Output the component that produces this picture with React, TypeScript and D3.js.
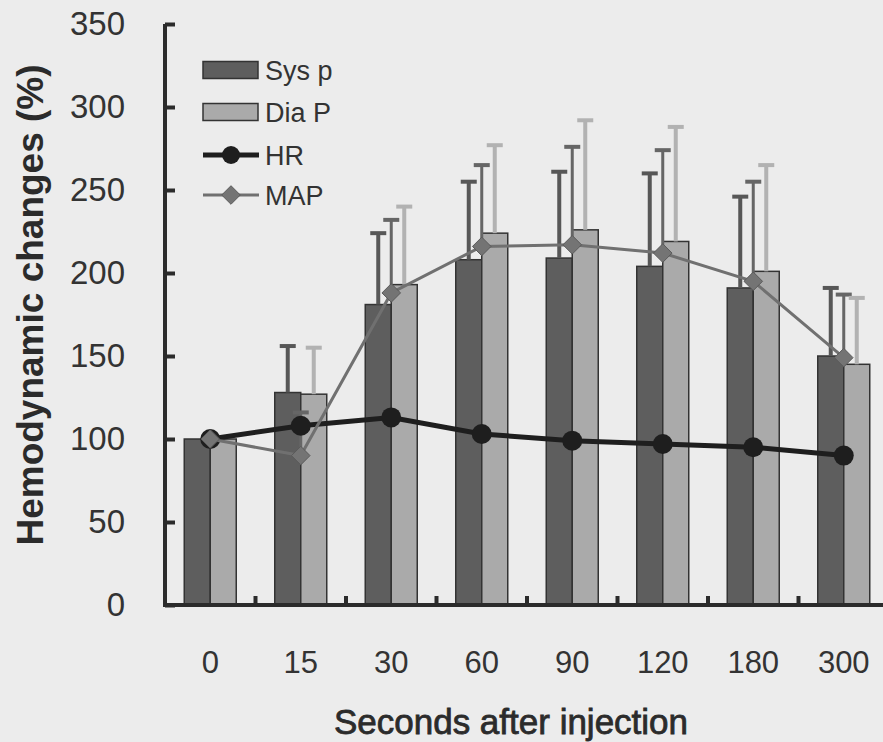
import * as d3 from "d3";
import { useEffect, useRef } from "react";

const seconds = ["0", "15", "30", "60", "90", "120", "180", "300"];
const sysP = [100, 128, 181, 208, 209, 204, 191, 150];
const sysSd = [0, 28, 43, 47, 52, 56, 55, 41];
const diaP = [100, 127, 193, 224, 226, 219, 201, 145];
const diaSd = [0, 28, 47, 53, 66, 69, 64, 40];
const hr = [100, 108, 113, 103, 99, 97, 95, 90];
const map = [100, 90, 188, 216, 217, 212, 195, 149];
const mapSd = [0, 26, 44, 49, 59, 62, 60, 38];
const yTicks = [0, 50, 100, 150, 200, 250, 300, 350];

const W = 883;
const H = 742;

const App = () => {
  const ref = useRef<SVGSVGElement | null>(null);

  useEffect(() => {
    document.body.style.margin = "0";
    if (!ref.current) return;
    const svg = d3.select(ref.current);
    svg.selectAll("*").remove();

    const font = "'Liberation Sans', Arial, sans-serif";
    const axisColor = "#2b2b2b";
    const sysColor = "#5e5e5e";
    const diaColor = "#aaaaaa";
    const hrColor = "#1e1e1e";
    const mapColor = "#707070";

    svg.append("rect").attr("width", W).attr("height", H).attr("fill", "#ececec");

    const x = d3.scaleBand().domain(seconds).range([165, 889]).padding(0);
    const y = d3.scaleLinear().domain([0, 350]).range([605, 24]);
    const cx = (d: string) => x(d)! + x.bandwidth() / 2;
    const barW = 26;

    // bars
    const groups = svg.append("g").selectAll("g").data(seconds).join("g");

    groups
      .append("rect")
      .attr("x", (d) => cx(d) - barW)
      .attr("y", (_, i) => y(sysP[i]))
      .attr("width", barW)
      .attr("height", (_, i) => y(0) - y(sysP[i]))
      .attr("fill", sysColor)
      .attr("stroke", "#333")
      .attr("stroke-width", 1.5);

    groups
      .append("rect")
      .attr("x", (d) => cx(d))
      .attr("y", (_, i) => y(diaP[i]))
      .attr("width", barW)
      .attr("height", (_, i) => y(0) - y(diaP[i]))
      .attr("fill", diaColor)
      .attr("stroke", "#333")
      .attr("stroke-width", 1.5);

    // error bars (upper only)
    const errBar = (
      xs: (d: string) => number,
      mean: number[],
      sd: number[],
      color: string,
      w: number
    ) => {
      const g = svg.append("g");
      seconds.forEach((d, i) => {
        if (sd[i] <= 0) return;
        const x0 = xs(d);
        g.append("line")
          .attr("x1", x0)
          .attr("x2", x0)
          .attr("y1", y(mean[i]))
          .attr("y2", y(mean[i] + sd[i]))
          .attr("stroke", color)
          .attr("stroke-width", w);
        g.append("line")
          .attr("x1", x0 - 8)
          .attr("x2", x0 + 8)
          .attr("y1", y(mean[i] + sd[i]))
          .attr("y2", y(mean[i] + sd[i]))
          .attr("stroke", color)
          .attr("stroke-width", 4);
      });
    };
    errBar((d) => cx(d) - barW / 2, sysP, sysSd, "#575757", 4);
    errBar((d) => cx(d), map, mapSd, "#666666", 3);
    errBar((d) => cx(d) + barW / 2, diaP, diaSd, "#b2b2b2", 4);

    const line = d3
      .line<number>()
      .curve(d3.curveLinear)
      .x((_, i) => cx(seconds[i]))
      .y((v) => y(v));

    // HR
    svg
      .append("path")
      .attr("d", line(hr))
      .attr("fill", "none")
      .attr("stroke", hrColor)
      .attr("stroke-width", 5);
    svg
      .append("g")
      .selectAll("circle")
      .data(hr)
      .join("circle")
      .attr("cx", (_, i) => cx(seconds[i]))
      .attr("cy", (v) => y(v))
      .attr("r", 10)
      .attr("fill", hrColor);

    // MAP
    svg
      .append("path")
      .attr("d", line(map))
      .attr("fill", "none")
      .attr("stroke", mapColor)
      .attr("stroke-width", 3);
    const diamond = d3.symbol().type(d3.symbolDiamond2).size(220);
    svg
      .append("g")
      .selectAll("path")
      .data(map)
      .join("path")
      .attr("d", diamond)
      .attr("transform", (v, i) => `translate(${cx(seconds[i])},${y(v)})`)
      .attr("fill", "#747474")
      .attr("stroke", "#5a5a5a")
      .attr("stroke-width", 1);

    // y axis
    svg
      .append("g")
      .attr("transform", "translate(165,0)")
      .call(d3.axisLeft(y).tickValues(yTicks).tickSize(-10).tickPadding(40))
      .call((g) => {
        g.select(".domain")
          .attr("d", `M0,${y(350)}V${y(0) + 2}`)
          .attr("stroke", axisColor)
          .attr("stroke-width", 4);
        g.selectAll(".tick line").attr("stroke", axisColor).attr("stroke-width", 4);
        g.selectAll(".tick text")
          .attr("fill", "#333")
          .style("font-family", font)
          .style("font-size", "33px");
      });

    // x axis
    svg
      .append("g")
      .attr("transform", `translate(0,${y(0)})`)
      .call(d3.axisBottom(x).tickSize(0).tickPadding(46))
      .call((g) => {
        g.select(".domain").remove();
        g.selectAll(".tick text")
          .attr("fill", "#333")
          .style("font-family", font)
          .style("font-size", "31px");
      });
    svg
      .append("line")
      .attr("x1", 163)
      .attr("x2", W)
      .attr("y1", y(0))
      .attr("y2", y(0))
      .attr("stroke", axisColor)
      .attr("stroke-width", 4);
    svg
      .append("g")
      .selectAll("line")
      .data(seconds.slice(1))
      .join("line")
      .attr("x1", (d) => x(d)!)
      .attr("x2", (d) => x(d)!)
      .attr("y1", y(0))
      .attr("y2", y(0) - 9)
      .attr("stroke", axisColor)
      .attr("stroke-width", 4);

    // titles
    svg
      .append("text")
      .attr("transform", "translate(43,305) rotate(-90)")
      .attr("text-anchor", "middle")
      .attr("fill", "#2b2b2b")
      .style("font-family", font)
      .style("font-weight", "bold")
      .style("font-size", "37px")
      .text("Hemodynamic changes (%)");

    svg
      .append("text")
      .attr("x", 511)
      .attr("y", 734)
      .attr("text-anchor", "middle")
      .attr("fill", "#2b2b2b")
      .attr("stroke", "#2b2b2b")
      .attr("stroke-width", 0.8)
      .style("font-family", font)
      .style("font-size", "35px")
      .text("Seconds after injection");

    // legend
    const lg = svg.append("g").attr("transform", "translate(203,0)");
    const rows = [
      { name: "Sys p", y: 70, kind: "bar", color: sysColor },
      { name: "Dia P", y: 112, kind: "bar", color: diaColor },
      { name: "HR", y: 155, kind: "circle", color: hrColor },
      { name: "MAP", y: 195, kind: "diamond", color: mapColor },
    ];
    rows.forEach((r) => {
      if (r.kind === "bar") {
        lg.append("rect")
          .attr("x", 0)
          .attr("y", r.y - 8.5)
          .attr("width", 55)
          .attr("height", 17)
          .attr("fill", r.color)
          .attr("stroke", "#333")
          .attr("stroke-width", 1.5);
      } else {
        lg.append("line")
          .attr("x1", 0)
          .attr("x2", 56)
          .attr("y1", r.y)
          .attr("y2", r.y)
          .attr("stroke", r.color)
          .attr("stroke-width", r.kind === "circle" ? 5 : 3);
        if (r.kind === "circle") {
          lg.append("circle").attr("cx", 28).attr("cy", r.y).attr("r", 9).attr("fill", r.color);
        } else {
          lg.append("path")
            .attr("d", diamond)
            .attr("transform", `translate(28,${r.y})`)
            .attr("fill", "#747474")
            .attr("stroke", "#5a5a5a");
        }
      }
      lg.append("text")
        .attr("x", 62)
        .attr("y", r.y)
        .attr("dy", "0.36em")
        .attr("fill", "#333")
        .style("font-family", font)
        .style("font-size", "27px")
        .text(r.name);
    });
  }, []);

  return <svg ref={ref} width={W} height={H} style={{ display: "block" }} />;
};

export default App;
